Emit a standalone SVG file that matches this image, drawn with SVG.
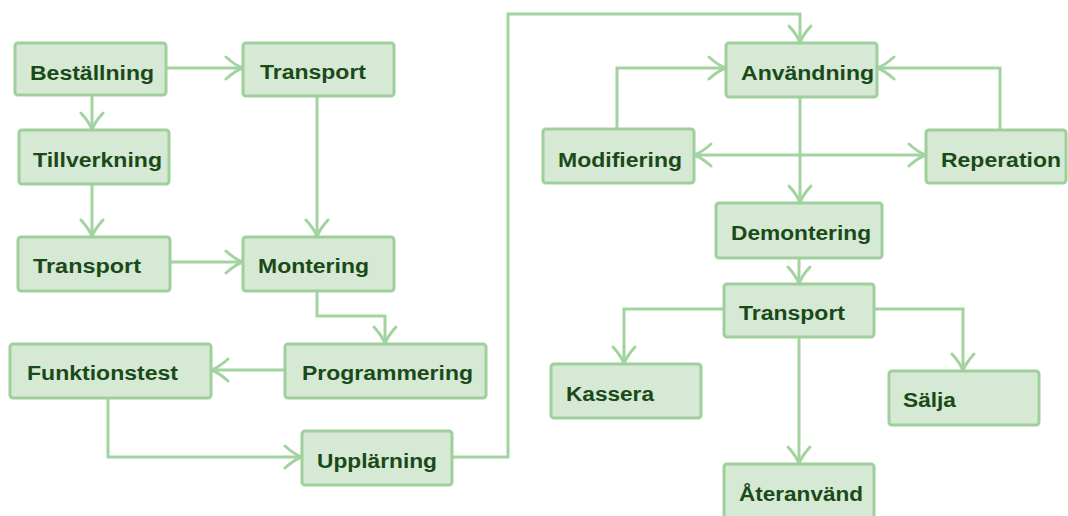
<svg xmlns="http://www.w3.org/2000/svg" width="1068" height="516" viewBox="0 0 1068 516">
  <style>
    .box rect { fill: #d5e9d4; stroke: #9fd09c; stroke-width: 3; }
    .box text { font-family: "Liberation Sans", Arial, sans-serif; font-weight: bold; font-size: 20px; fill: #1b4a19; }
    .edges path { fill: none; stroke: #a3d3a0; stroke-width: 3; }
  </style>
  <defs>
    <marker id="arr" viewBox="-20 -13 22 26" refX="0" refY="0" markerWidth="22" markerHeight="26" markerUnits="userSpaceOnUse" orient="auto-start-reverse">
      <path d="M-17,-11 Q-7,-2 0,0 Q-7,2 -17,11" fill="none" stroke="#a3d3a0" stroke-width="3" stroke-linecap="round"/>
    </marker>
  </defs>

  <rect width="1068" height="516" fill="#ffffff"/>

  <!-- connectors -->
  <g class="edges" id="connectors">
    <path d="M92,95 V130" marker-end="url(#arr)"/>
    <path d="M166,68 H243" marker-end="url(#arr)"/>
    <path d="M317,96 V237" marker-end="url(#arr)"/>
    <path d="M92,184 V237" marker-end="url(#arr)"/>
    <path d="M170,262 H243" marker-end="url(#arr)"/>
    <path d="M317,291 V316 H385 V344" marker-end="url(#arr)"/>
    <path d="M285,370 H211" marker-end="url(#arr)"/>
    <path d="M108,398 V457 H302" marker-end="url(#arr)"/>
    <path d="M452,457 H508 V14 H800 V43" marker-end="url(#arr)"/>
    <path d="M617,129 V68 H726" marker-end="url(#arr)"/>
    <path d="M1000,130 V68 H877" marker-end="url(#arr)"/>
    <path d="M694,155 H926" marker-start="url(#arr)" marker-end="url(#arr)"/>
    <path d="M800,97 V203" marker-end="url(#arr)"/>
    <path d="M799,258 V284" marker-end="url(#arr)"/>
    <path d="M724,309 H624 V364" marker-end="url(#arr)"/>
    <path d="M874,309 H963 V371" marker-end="url(#arr)"/>
    <path d="M799,337 V464" marker-end="url(#arr)"/>
  </g>

  <!-- production side -->
  <g class="box" id="bestallning"><rect x="15" y="43" width="151" height="52" rx="3"/><text x="30" y="80" textLength="124" lengthAdjust="spacingAndGlyphs">Beställning</text></g>
  <g class="box" id="transport1"><rect x="243" y="43" width="151" height="53" rx="3"/><text x="260" y="79" textLength="106" lengthAdjust="spacingAndGlyphs">Transport</text></g>
  <g class="box" id="tillverkning"><rect x="19" y="130" width="150" height="54" rx="3"/><text x="33" y="167" textLength="129" lengthAdjust="spacingAndGlyphs">Tillverkning</text></g>
  <g class="box" id="transport2"><rect x="18" y="237" width="152" height="54" rx="3"/><text x="33" y="273" textLength="108" lengthAdjust="spacingAndGlyphs">Transport</text></g>
  <g class="box" id="montering"><rect x="243" y="237" width="151" height="54" rx="3"/><text x="258" y="273" textLength="111" lengthAdjust="spacingAndGlyphs">Montering</text></g>
  <g class="box" id="programmering"><rect x="285" y="344" width="201" height="54" rx="3"/><text x="302" y="380" textLength="171" lengthAdjust="spacingAndGlyphs">Programmering</text></g>
  <g class="box" id="funktionstest"><rect x="10" y="344" width="201" height="54" rx="3"/><text x="27" y="380" textLength="151" lengthAdjust="spacingAndGlyphs">Funktionstest</text></g>
  <g class="box" id="upplarning"><rect x="302" y="431" width="150" height="54" rx="3"/><text x="317" y="468" textLength="120" lengthAdjust="spacingAndGlyphs">Upplärning</text></g>

  <!-- use and end of life -->
  <g class="box" id="anvandning"><rect x="726" y="43" width="151" height="54" rx="3"/><text x="741" y="80" textLength="133" lengthAdjust="spacingAndGlyphs">Användning</text></g>
  <g class="box" id="modifiering"><rect x="543" y="129" width="151" height="54" rx="3"/><text x="558" y="167" textLength="124" lengthAdjust="spacingAndGlyphs">Modifiering</text></g>
  <g class="box" id="reperation"><rect x="926" y="130" width="140" height="53" rx="3"/><text x="941" y="167" textLength="120" lengthAdjust="spacingAndGlyphs">Reperation</text></g>
  <g class="box" id="demontering"><rect x="716" y="203" width="166" height="55" rx="3"/><text x="731" y="240" textLength="140" lengthAdjust="spacingAndGlyphs">Demontering</text></g>
  <g class="box" id="transport3"><rect x="724" y="284" width="150" height="53" rx="3"/><text x="739" y="320" textLength="106" lengthAdjust="spacingAndGlyphs">Transport</text></g>
  <g class="box" id="kassera"><rect x="551" y="364" width="150" height="54" rx="3"/><text x="566" y="401" textLength="88" lengthAdjust="spacingAndGlyphs">Kassera</text></g>
  <g class="box" id="salja"><rect x="889" y="371" width="150" height="54" rx="3"/><text x="903" y="407" textLength="53" lengthAdjust="spacingAndGlyphs">Sälja</text></g>
  <g class="box" id="ateranvand"><rect x="724" y="464" width="150" height="60" rx="3"/><text x="739" y="501" textLength="124" lengthAdjust="spacingAndGlyphs">Återanvänd</text></g>
</svg>
